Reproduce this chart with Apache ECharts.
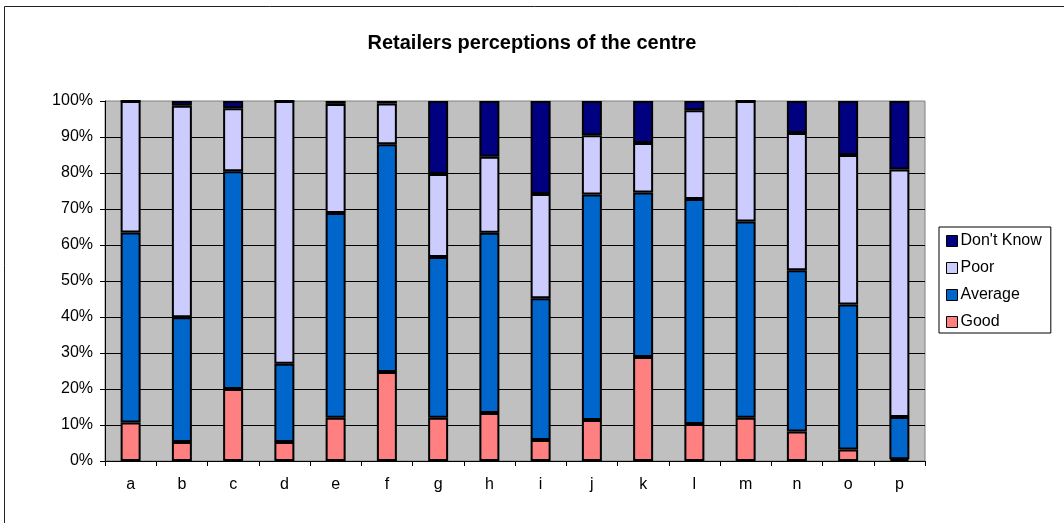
<!DOCTYPE html>
<html>
<head>
<meta charset="utf-8">
<script src="https://cdn.jsdelivr.net/npm/echarts@6/dist/echarts.min.js"></script>
<style>
html,body{margin:0;padding:0;background:#fff;}
#chart{width:1064px;height:523px;}
</style>
</head>
<body>
<div id="chart"></div>
<script>
const categories = ['a','b','c','d','e','f','g','h','i','j','k','l','m','n','o','p'];
const good     = [10.7, 5.3, 20.0, 5.3, 12.0, 24.7, 12.0, 13.3, 5.8, 11.4, 28.9, 10.3, 12.0, 8.2, 3.2, 0.5];
const average  = [52.8, 34.6, 60.5, 21.7, 56.9, 63.3, 44.7, 50.1, 39.4, 62.6, 45.7, 62.5, 54.5, 44.8, 40.3, 11.7];
const poor     = [36.5, 58.8, 17.5, 73.0, 30.3, 11.3, 23.0, 21.1, 29.0, 16.5, 13.7, 24.6, 33.5, 38.1, 41.5, 68.8];
const dontKnow = [0, 1.3, 2.0, 0, 0.8, 0.7, 20.3, 15.5, 25.8, 9.5, 11.7, 2.6, 0, 8.9, 15.0, 19.0];
const yTicks = [0,10,20,30,40,50,60,70,80,90,100];

const FONT = '"Liberation Sans", Arial, sans-serif';
const chart = echarts.init(document.getElementById('chart'), null, {renderer:'canvas'});

function ser(name, data, color){
  return {
    name, type:'bar', stack:'total', data, barWidth:20,
    itemStyle:{color, borderColor:'#000', borderWidth:2},
    emphasis:{disabled:true}
  };
}

chart.setOption({
  animation:false,
  backgroundColor:'#fff',
  title:{
    text:'Retailers perceptions of the centre',
    left:'center', top:28,
    textStyle:{fontFamily:FONT, fontSize:20, fontWeight:'bold', color:'#000'}
  },
  graphic:[{
    type:'rect', shape:{x:4.5, y:6.5, width:1100, height:600},
    style:{fill:'none', stroke:'#222', lineWidth:1}, silent:true, z:-1
  }],
  legend:{
    data:['Don\'t Know','Poor','Average','Good'],
    orient:'vertical', left:939, top:227,
    padding:[6,9,3,7],
    itemWidth:11, itemHeight:11, itemGap:11,
    backgroundColor:'#fff', borderColor:'#000', borderWidth:1,
    icon:'rect',
    itemStyle:{borderColor:'#000', borderWidth:1},
    textStyle:{fontFamily:FONT, fontSize:16, color:'#000', lineHeight:16, padding:[0,0,0,-2]},
    selectedMode:false
  },
  grid:{left:105, right:139, top:101, bottom:62, show:true, backgroundColor:'#C0C0C0', borderColor:'#808080', borderWidth:1},
  xAxis:{
    type:'category', data:categories,
    axisLine:{lineStyle:{color:'#000', width:1}},
    axisTick:{show:true, length:5, inside:false, alignWithLabel:false, lineStyle:{color:'#000'}},
    axisLabel:{fontFamily:FONT, fontSize:16, color:'#000', margin:16}
  },
  yAxis:{
    type:'value', min:0, max:100, interval:10,
    axisLine:{show:true, lineStyle:{color:'#000', width:1}},
    axisTick:{show:true, length:5, lineStyle:{color:'#000'}},
    axisLabel:{fontFamily:FONT, fontSize:16, color:'#000', margin:12, formatter:'{value}%'},
    splitLine:{show:true, showMaxLine:false, lineStyle:{color:'#000', width:1}}
  },
  series:[
    ser('Good', good, '#FF8080'),
    ser('Average', average, '#0066CC'),
    ser('Poor', poor, '#CCCCFF'),
    ser('Don\'t Know', dontKnow, '#000080')
  ]
});
</script>
</body>
</html>
